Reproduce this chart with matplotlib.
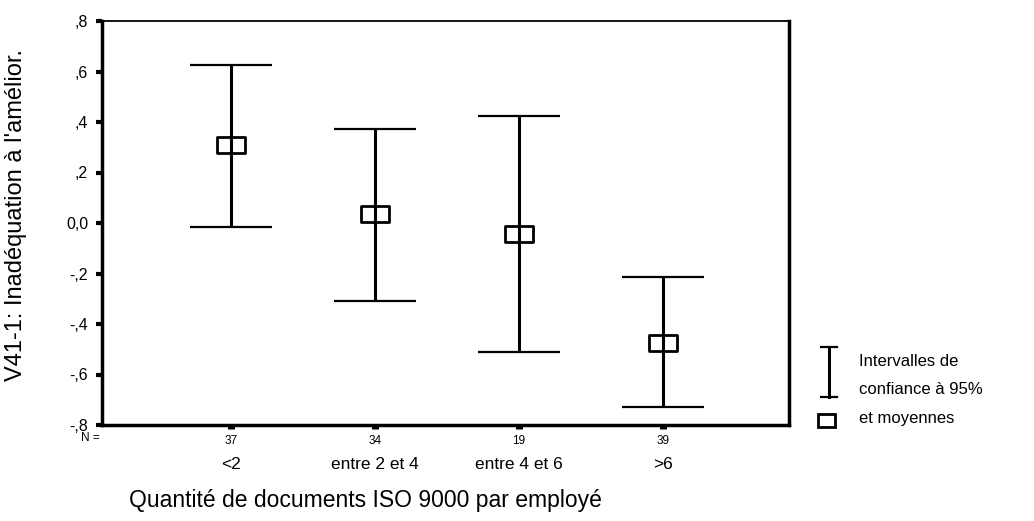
import matplotlib
matplotlib.use("Agg")
import matplotlib.pyplot as plt
from matplotlib.path import Path
from matplotlib.lines import Line2D
from matplotlib.patches import Rectangle
import matplotlib.transforms as mtransforms

plt.rcParams['font.family'] = ['Liberation Sans', 'DejaVu Sans']

categories = ["<2", "entre 2 et 4", "entre 4 et 6", ">6"]
n_values = [37, 34, 19, 39]
means = [0.31, 0.034, -0.045, -0.475]
ci_low = [-0.014, -0.31, -0.51, -0.73]
ci_high = [0.626, 0.373, 0.425, -0.215]
yticks = [-0.8, -0.6, -0.4, -0.2, 0.0, 0.2, 0.4, 0.6, 0.8]
ytick_labels = ["-,8", "-,6", "-,4", "-,2", "0,0", ",2", ",4", ",6", ",8"]

W, H = 1034, 521
fig = plt.figure(figsize=(W / 100, H / 100), dpi=100)
ax = fig.add_axes([102 / W, 1 - 425 / H, (789 - 102) / W, (425 - 21) / H])

x = list(range(1, len(categories) + 1))
yerr_low = [m - l for m, l in zip(means, ci_low)]
yerr_high = [h - m for m, h in zip(means, ci_high)]

rect = Path([(-1, -0.6), (1, -0.6), (1, 0.6), (-1, 0.6), (-1, -0.6)],
            [Path.MOVETO, Path.LINETO, Path.LINETO, Path.LINETO, Path.CLOSEPOLY])

ax.errorbar(x, means, yerr=[yerr_low, yerr_high], fmt='none', ecolor='black',
            elinewidth=2.2, capsize=29.5, capthick=1.6)
ax.plot(x, means, linestyle='none', marker=rect, markersize=19.5,
        markerfacecolor='none', markeredgecolor='black', markeredgewidth=2.0)

ax.set_xlim(0.104, 4.875)
ax.set_ylim(-0.8, 0.8)
ax.set_yticks(yticks)
ax.set_yticklabels(ytick_labels, fontsize=11.5)
ax.set_xticks(x)
ax.set_xticklabels([str(n) for n in n_values], fontsize=8.5)
ax.tick_params(axis='y', direction='out', length=4, width=3, pad=6)
ax.tick_params(axis='x', direction='out', length=3, width=5, pad=4)

for side in ['left', 'bottom', 'right']:
    ax.spines[side].set_linewidth(2.5)
ax.spines['top'].set_linewidth(1.3)

trans = mtransforms.blended_transform_factory(ax.transData, ax.transAxes)
for xi, cat in zip(x, categories):
    ax.text(xi, -0.099, cat, transform=trans, ha='center', va='center', fontsize=12.5)
ax.text(-12 / 687, -0.032, "N =", transform=ax.transAxes, ha='center', va='center', fontsize=8.5)

fig.text(365 / W, 1 - 500 / H, "Quantité de documents ISO 9000 par employé",
         ha='center', va='center', fontsize=16.5)
fig.text(16 / W, 1 - 215 / H, "V41-1: Inadéquation à l'amélior.", rotation=90,
         ha='center', va='center', fontsize=17)

# legend (figure pixel coordinates)
pix = mtransforms.Affine2D().scale(1 / W, 1 / H) + fig.transFigure
def px(xp, yp):
    return xp, H - yp
lx = 829
x0, y0 = px(lx, 347)
x1, y1 = px(lx, 397)
fig.add_artist(Line2D([x0, x1], [y0, y1], color='black', lw=2.2, transform=pix))
for yy in (347, 397):
    a, b = px(lx - 8, yy)
    c, d = px(lx + 8, yy)
    fig.add_artist(Line2D([a, c], [b, d], color='black', lw=1.6, transform=pix))
rx, ry = px(818, 427)
fig.add_artist(Rectangle((rx, ry), 17, 13, fill=False, ec='black', lw=2.0, transform=pix))
for txt, yy in [("Intervalles de", 361), ("confiance à 95%", 390), ("et moyennes", 419)]:
    a, b = px(859, yy)
    fig.text(a / W, b / H, txt, ha='left', va='center', fontsize=12)

fig.savefig("out.png", dpi=100)
